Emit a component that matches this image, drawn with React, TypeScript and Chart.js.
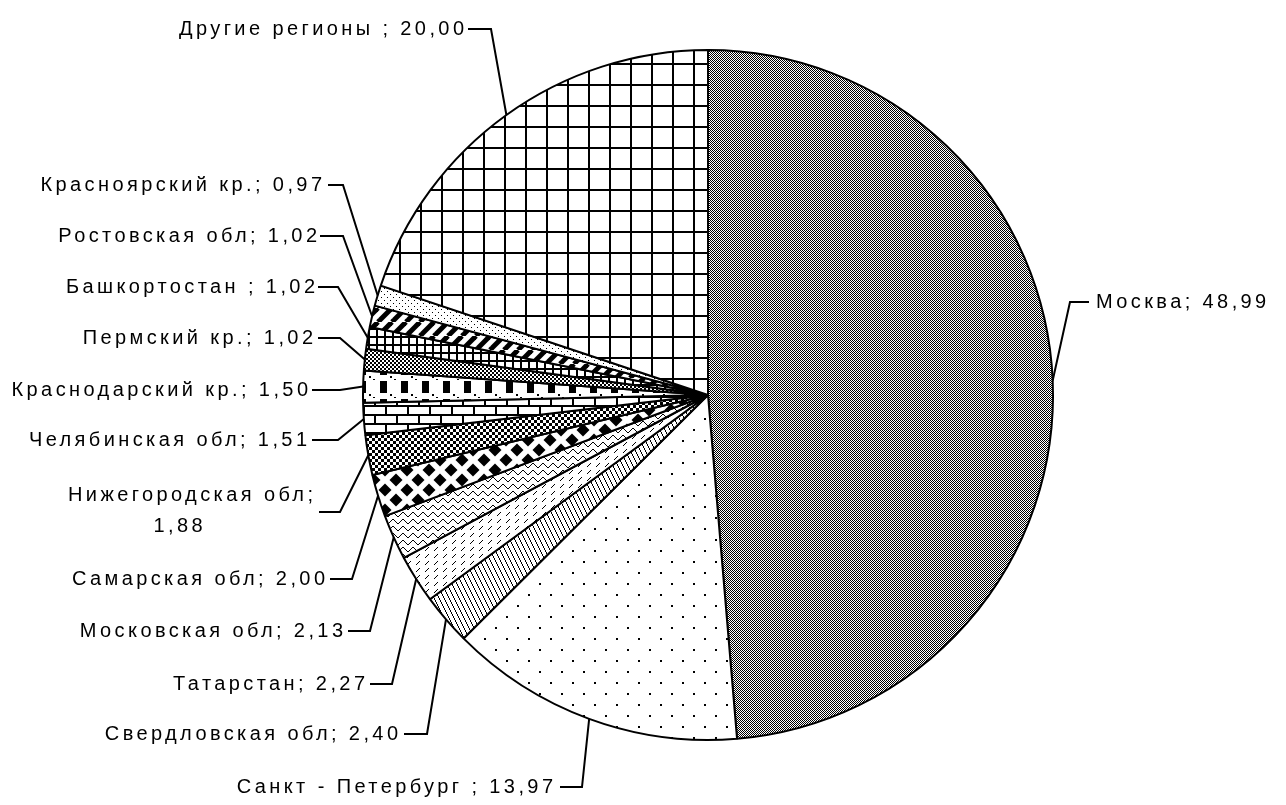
import React, { useEffect, useRef } from 'react';
import { Chart, registerables } from 'chart.js';

Chart.register(...registerables);

// ---- data ----
const regionNames = [
  'Москва',
  'Санкт - Петербург ',
  'Свердловская обл',
  'Татарстан',
  'Московская обл',
  'Самарская обл',
  'Нижегородская обл',
  'Челябинская обл',
  'Краснодарский кр.',
  'Пермский кр.',
  'Башкортостан ',
  'Ростовская обл',
  'Красноярский кр.',
  'Другие регионы ',
];
const shareValues = [48.99, 13.97, 2.4, 2.27, 2.13, 2.0, 1.88, 1.51, 1.5, 1.02, 1.02, 1.02, 0.97, 20.0];

// ---- label layout (positions only) ----
type Lay = { align: 'left' | 'right'; tx: number; ty: number; ex: number; ey: number; hx: number; wrap?: { cx: number; ty2: number } };
const labelLayout: Lay[] = [
  { align: 'left', tx: 1096, ty: 302, ex: 1070, ey: 302, hx: 1089 },
  { align: 'right', tx: 553, ty: 787, ex: 582, ey: 787, hx: 560 },
  { align: 'right', tx: 398, ty: 734, ex: 427, ey: 734, hx: 404 },
  { align: 'right', tx: 365, ty: 684, ex: 392, ey: 684, hx: 370 },
  { align: 'right', tx: 343, ty: 631, ex: 370, ey: 631, hx: 348 },
  { align: 'right', tx: 325, ty: 579, ex: 352, ey: 579, hx: 330 },
  { align: 'right', tx: 313, ty: 495, ex: 340, ey: 512, hx: 319, wrap: { cx: 178, ty2: 526 } },
  { align: 'right', tx: 307, ty: 440, ex: 338, ey: 440, hx: 312 },
  { align: 'right', tx: 308, ty: 390, ex: 340, ey: 390, hx: 312 },
  { align: 'right', tx: 313, ty: 338, ex: 340, ey: 338, hx: 318 },
  { align: 'right', tx: 315, ty: 287, ex: 338, ey: 287, hx: 318 },
  { align: 'right', tx: 317, ty: 236, ex: 343, ey: 236, hx: 320 },
  { align: 'right', tx: 322, ty: 185, ex: 343, ey: 185, hx: 328 },
  { align: 'right', tx: 464, ty: 29, ex: 491, ey: 29, hx: 468 },
];

const fmt = (v: number) => v.toFixed(2).replace('.', ',');
const SPACING = 3.4;

function tile(w: number, h: number, draw: (c: CanvasRenderingContext2D) => void) {
  const cv = document.createElement('canvas');
  cv.width = w;
  cv.height = h;
  const c = cv.getContext('2d')!;
  c.fillStyle = '#fff';
  c.fillRect(0, 0, w, h);
  c.fillStyle = '#000';
  c.strokeStyle = '#000';
  draw(c);
  return cv;
}

function makePatterns(ctx: CanvasRenderingContext2D) {
  const tiles: HTMLCanvasElement[] = [
    // Москва: fine dither
    tile(2, 2, (c) => {
      c.fillRect(0, 0, 1, 1);
      c.fillRect(1, 1, 1, 1);
    }),
    // СПб: sparse dots
    tile(22, 22, (c) => {
      c.fillRect(0, 0, 2, 2);
      c.fillRect(11, 11, 2, 2);
    }),
    // Свердловская: steep back hatch
    tile(5, 10, (c) => {
      for (let y = 0; y < 10; y++) c.fillRect(Math.floor(y / 2), y, 1, 1);
    }),
    // Татарстан: short forward dashes
    tile(9, 7, (c) => {
      c.fillRect(5, 1, 1, 1);
      c.fillRect(4, 2, 1, 1);
      c.fillRect(3, 3, 1, 1);
      c.fillRect(2, 4, 1, 1);
    }),
    // Московская обл: waves
    tile(10, 7, (c) => {
      const ys = [3, 2, 1, 1, 2, 3, 4, 5, 5, 4];
      ys.forEach((y, x) => c.fillRect(x, y, 1, 1));
    }),
    // Самарская: large diamonds
    tile(22, 20, (c) => {
      const d = (x: number, y: number) => {
        c.beginPath();
        c.moveTo(x, y - 6.5);
        c.lineTo(x + 6.5, y);
        c.lineTo(x, y + 6.5);
        c.lineTo(x - 6.5, y);
        c.closePath();
        c.fill();
      };
      d(11, 10);
      d(0, 0);
      d(22, 0);
      d(0, 20);
      d(22, 20);
    }),
    // Нижегородская: small checker
    tile(6, 6, (c) => {
      c.fillRect(0, 0, 3, 3);
      c.fillRect(3, 3, 3, 3);
    }),
    // Челябинская: bricks
    tile(22, 18, (c) => {
      c.fillRect(0, 0, 22, 2);
      c.fillRect(0, 9, 22, 2);
      c.fillRect(0, 0, 2, 9);
      c.fillRect(11, 9, 2, 9);
    }),
    // Краснодарский: black blocks
    tile(21, 18, (c) => {
      c.fillRect(2, 3, 7, 12);
      c.fillRect(12, 16, 2, 2);
      c.fillRect(16, 1, 2, 1);
    }),
    // Пермский: coarse dither
    tile(4, 4, (c) => {
      c.fillRect(0, 0, 2, 2);
      c.fillRect(2, 2, 2, 2);
    }),
    // Башкортостан: small squares grid
    tile(8, 8, (c) => {
      c.fillRect(0, 0, 8, 2);
      c.fillRect(0, 0, 2, 8);
    }),
    // Ростовская: thick forward stripes
    tile(14, 14, (c) => {
      c.lineWidth = 5;
      for (const o of [-14, 0, 14]) {
        c.beginPath();
        c.moveTo(o, 14);
        c.lineTo(o + 14, 0);
        c.stroke();
      }
    }),
    // Красноярский: light dots
    tile(6, 6, (c) => {
      c.fillRect(0, 0, 1, 1);
      c.fillRect(3, 3, 1, 1);
    }),
    // Другие: open grid
    tile(21, 21, (c) => {
      c.fillRect(0, 0, 21, 2);
      c.fillRect(0, 0, 2, 21);
    }),
  ];
  return tiles.map((t) => ctx.createPattern(t, 'repeat') as CanvasPattern);
}

const leaderPlugin = {
  id: 'leaderLabels',
  afterDatasetsDraw(chart: any) {
    const ctx: CanvasRenderingContext2D = chart.ctx;
    const meta = chart.getDatasetMeta(0);
    ctx.save();
    ctx.strokeStyle = '#000';
    ctx.fillStyle = '#000';
    ctx.lineWidth = 2;
    ctx.font = '20px "Liberation Sans", Arial, sans-serif';
    (ctx as any).letterSpacing = SPACING + 'px';
    ctx.textBaseline = 'middle';
    meta.data.forEach((arc: any, i: number) => {
      const p = arc.getProps(['x', 'y', 'startAngle', 'endAngle', 'outerRadius'], true);
      const mid = (p.startAngle + p.endAngle) / 2;
      const px = p.x + Math.cos(mid) * p.outerRadius;
      const py = p.y + Math.sin(mid) * p.outerRadius;
      const L = labelLayout[i];
      ctx.beginPath();
      ctx.moveTo(px, py);
      ctx.lineTo(L.ex, L.ey);
      ctx.lineTo(L.hx, L.ey);
      ctx.stroke();
      const name = regionNames[i];
      const val = fmt(shareValues[i]);
      if (L.wrap) {
        ctx.textAlign = 'right';
        ctx.fillText(name + ';', L.tx + SPACING, L.ty);
        ctx.textAlign = 'center';
        ctx.fillText(val, L.wrap.cx + SPACING / 2, L.wrap.ty2);
      } else {
        ctx.textAlign = L.align;
        ctx.fillText(name + '; ' + val, L.align === 'right' ? L.tx + SPACING : L.tx, L.ty);
      }
    });
    ctx.restore();
  },
};

export default function App() {
  const ref = useRef<HTMLCanvasElement>(null);
  useEffect(() => {
    document.body.style.margin = '0';
    const canvas = ref.current!;
    const ctx = canvas.getContext('2d')!;
    const patterns = makePatterns(ctx);
    const chart = new Chart(canvas, {
      type: 'pie',
      data: {
        labels: regionNames,
        datasets: [
          {
            data: shareValues,
            backgroundColor: patterns,
            borderColor: '#000',
            borderWidth: 2,
            hoverOffset: 0,
          },
        ],
      },
      options: {
        animation: false,
        responsive: false,
        devicePixelRatio: 1,
        layout: { padding: { left: 362, right: 232, top: 49, bottom: 64 } },
        plugins: { legend: { display: false }, tooltip: { enabled: false } },
      },
      plugins: [leaderPlugin],
    });
    return () => chart.destroy();
  }, []);
  return (
    <div style={{ width: 1286, height: 805, background: '#fff' }}>
      <canvas ref={ref} width={1286} height={805} />
    </div>
  );
}
